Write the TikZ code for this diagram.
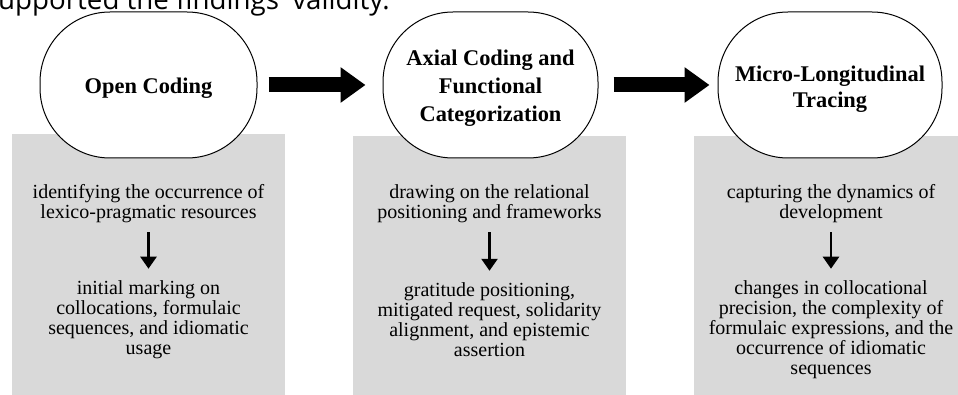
\documentclass[tikz,border=0pt]{standalone}
\usepackage{fontspec}
\setmainfont{Liberation Serif}
\newfontfamily\captionsans{Open Sans}
\usetikzlibrary{positioning, arrows.meta}
\definecolor{boxgray}{RGB}{217,217,217}

\begin{document}
\begin{tikzpicture}[
    x=1pt, y=1pt,
    node distance=125pt,
    stage/.style={draw=black, line width=1pt, fill=white, rounded corners=70pt, minimum height=146pt, inner sep=0pt},
    title/.style={align=center, inner sep=0pt, font=\fontsize{22.4}{28}\selectfont\bfseries},
    panel/.style={fill=boxgray, minimum width=273pt, minimum height=266pt, anchor=north west, inner sep=0pt},
    desc/.style={align=center, inner sep=0pt, font=\fontsize{20}{20}\selectfont},
    bigarrow/.style={-{Triangle[width=34pt, length=25pt]}, line width=15pt},
    smallarrow/.style={-{Triangle[width=16pt, length=12pt]}, line width=2.5pt}
]
\useasboundingbox (0,0) rectangle (958,394);
\clip (0,0) rectangle (958,394);

% --- cropped caption line above the figure ---
\node[anchor=base west, inner sep=0pt, font=\captionsans\fontsize{27.7}{27.7}\selectfont] (caption) at (-2,384) {upported the findings' validity.};

% --- grey panels ---
\node[panel] (panel1) at (12,260) {};
\node[panel] (panel2) at (353,258) {};
\node[panel, minimum width=274pt] (panel3) at (694,258) {};

% --- stages ---
\node[stage, minimum width=217pt] (open) at (148.5,309) {};
\node[stage, minimum width=215pt, right=125pt of open] (axial) {};
\node[stage, minimum width=224pt, right=119pt of axial] (micro) {};

% stage titles, sat a little below the centre
\node[title] (openname) at ([yshift=-3pt]open.center) {Open Coding};
\node[title] (axialname) at ([yshift=-3pt]axial.center) {Axial Coding and\\Functional\\Categorization};
\node[title, font=\fontsize{22.4}{26}\selectfont\bfseries] (microname) at ([yshift=-4pt]micro.center) {Micro-Longitudinal\\Tracing};

% --- descriptions ---
% open coding
\node[desc] (open1) at (148.5,190) {identifying the occurrence of\\lexico-pragmatic resources};
\node[desc] (open2) at (148.5,74) {initial marking on\\collocations, formulaic\\sequences, and idiomatic\\usage};
% axial coding
\node[desc] (axial1) at (489.5,190) {drawing on the relational\\positioning and frameworks};
\node[desc] (axial2) at (489.5,74) {gratitude positioning,\\mitigated request, solidarity\\alignment, and epistemic\\assertion};
% micro-longitudinal tracing
\node[desc] (micro1) at (831,190) {capturing the dynamics of\\development};
\node[desc] (micro2) at (831,64) {changes in collocational\\precision, the complexity of\\formulaic expressions, and the\\occurrence of idiomatic\\sequences};

% --- arrows between stages ---
\draw[bigarrow, shorten <=11pt, shorten >=17pt] (open) -- (axial);
\draw[bigarrow, shorten <=15pt, shorten >=8pt] (axial) -- (micro);

% --- arrows inside panels ---
\draw[smallarrow, shorten <=9pt, shorten >=12pt] (open1) -- (open2);
\draw[smallarrow, shorten <=9pt, shorten >=12pt] (axial1) -- (axial2);
\draw[smallarrow, shorten <=9pt, shorten >=12pt] (micro1) -- (micro2);

\end{tikzpicture}
\end{document}
